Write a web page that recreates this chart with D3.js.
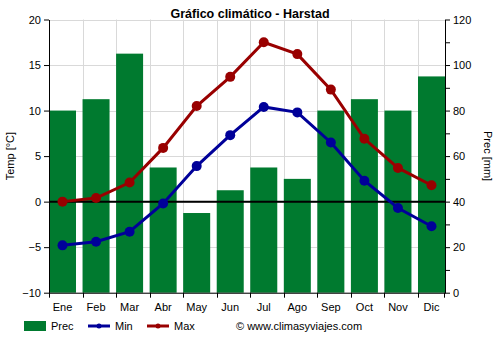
<!DOCTYPE html>
<html>
<head>
<meta charset="utf-8">
<script src="https://cdn.jsdelivr.net/npm/d3@7"></script>
<style>
  body { margin: 0; background: #fff; }
  svg text { font-family: "Liberation Sans", Arial, sans-serif; }
</style>
</head>
<body>
<svg id="chart" width="500" height="350"></svg>
<script>
const months = ["Ene","Feb","Mar","Abr","May","Jun","Jul","Ago","Sep","Oct","Nov","Dic"];
const prec = [80, 85, 105, 55, 35, 45, 55, 50, 80, 85, 80, 95];
const tMin = [-4.8, -4.4, -3.3, -0.2, 3.9, 7.3, 10.4, 9.8, 6.5, 2.3, -0.7, -2.7];
const tMax = [0.0, 0.4, 2.1, 5.9, 10.5, 13.7, 17.5, 16.2, 12.3, 6.9, 3.7, 1.8];
const tempTicks = [-10, -5, 0, 5, 10, 15, 20];
const precTicks = [0, 20, 40, 60, 80, 100, 120];

const svg = d3.select("#chart");
const m = { left: 49, right: 445, top: 19.5, bottom: 292.7 };

// bars sit flush with both axes; gaps only between them
const x = d3.scaleBand().domain(months).range([m.left, m.right]).paddingInner(0.195).paddingOuter(0);
const yT = d3.scaleLinear().domain([-10, 20]).range([m.bottom, m.top]);
const yP = d3.scaleLinear().domain([0, 120]).range([m.bottom, m.top]);

const green = "#007a2f", red = "#990000", blue = "#000099";

// grid
const grid = svg.append("g").attr("stroke", "#d9d9d9").attr("stroke-width", 1);
tempTicks.forEach(t => {
  grid.append("line").attr("x1", m.left).attr("x2", m.right)
    .attr("y1", Math.round(yT(t)) + 0.5).attr("y2", Math.round(yT(t)) + 0.5);
});
months.forEach((d, i) => {
  if (i === 0) return;
  const xx = Math.round(x(d)) + 0.5;
  grid.append("line").attr("x1", xx).attr("x2", xx).attr("y1", m.top).attr("y2", m.bottom);
});

// precipitation bars
svg.append("g").selectAll("rect").data(prec).join("rect")
  .attr("x", (d, i) => x(months[i]))
  .attr("width", x.bandwidth())
  .attr("y", d => yP(d))
  .attr("height", d => m.bottom - yP(d))
  .attr("fill", green);

// zero line
svg.append("line").attr("x1", m.left).attr("x2", m.right)
  .attr("y1", yT(0)).attr("y2", yT(0)).attr("stroke", "#000").attr("stroke-width", 2);

// temperature lines
const cx = i => x(months[i]) + x.bandwidth() / 2;
const line = d3.line().x((d, i) => cx(i)).y(d => yT(d));
[[tMin, blue], [tMax, red]].forEach(([s, c]) => {
  svg.append("path").datum(s).attr("d", line).attr("fill", "none")
    .attr("stroke", c).attr("stroke-width", 3);
  svg.append("g").selectAll("circle").data(s).join("circle")
    .attr("cx", (d, i) => cx(i)).attr("cy", d => yT(d)).attr("r", 5).attr("fill", c);
});

// axes
const axL = svg.append("g").attr("transform", `translate(${m.left},0)`)
  .call(d3.axisLeft(yT).tickValues(tempTicks).tickSize(5).tickSizeOuter(0));
const axR = svg.append("g").attr("transform", `translate(${m.right},0)`)
  .call(d3.axisRight(yP).tickValues(d3.range(0, 121, 10)).tickSize(5).tickSizeOuter(0)
    .tickFormat(d => precTicks.includes(d) ? d : ""));
const axB = svg.append("g").attr("transform", `translate(0,${m.bottom})`)
  .call(d3.axisBottom(x).tickSize(0).tickSizeOuter(0));
// tick marks at the left edge of every bar, plus the right end
months.forEach(d => {
  const xx = Math.round(x(d)) + 0.5;
  axB.append("line").attr("x1", xx).attr("x2", xx).attr("y1", 0).attr("y2", 5).attr("stroke", "#000");
});
axB.append("line").attr("x1", m.right - 0.5).attr("x2", m.right - 0.5).attr("y1", 0).attr("y2", 5).attr("stroke", "#000");
[axL, axR, axB].forEach(a => {
  a.selectAll("path.domain").attr("stroke", "#000");
  a.selectAll("text").attr("font-size", 11).attr("fill", "#000")
    .style("font-family", "'Liberation Sans', Arial, sans-serif");
});
axL.selectAll("text").attr("x", -8);
axR.selectAll("text").attr("x", 8);
axB.selectAll("text").attr("dy", "1.35em");

// titles
svg.append("text").attr("x", 250).attr("y", 18).attr("text-anchor", "middle")
  .attr("font-size", 12.5).attr("font-weight", "bold").text("Gráfico climático - Harstad");
svg.append("text").attr("transform", `translate(14,${(m.top + m.bottom) / 2}) rotate(-90)`)
  .attr("text-anchor", "middle").attr("font-size", 11).text("Temp [°C]");
svg.append("text").attr("transform", `translate(484,${(m.top + m.bottom) / 2}) rotate(90)`)
  .attr("text-anchor", "middle").attr("font-size", 11).text("Prec [mm]");

// legend
const lg = svg.append("g").attr("font-size", 11);
lg.append("rect").attr("x", 24).attr("y", 321).attr("width", 22).attr("height", 10).attr("fill", green);
lg.append("text").attr("x", 51).attr("y", 330).text("Prec");
[[88, blue, "Min"], [147, red, "Max"]].forEach(([lx, c, t]) => {
  lg.append("line").attr("x1", lx).attr("x2", lx + 22).attr("y1", 326).attr("y2", 326)
    .attr("stroke", c).attr("stroke-width", 3);
  lg.append("circle").attr("cx", lx + 11).attr("cy", 326).attr("r", 2.5).attr("fill", c);
  lg.append("text").attr("x", lx + 27).attr("y", 330).text(t);
});
lg.append("text").attr("x", 236).attr("y", 330).text("© www.climasyviajes.com");
</script>
</body>
</html>
